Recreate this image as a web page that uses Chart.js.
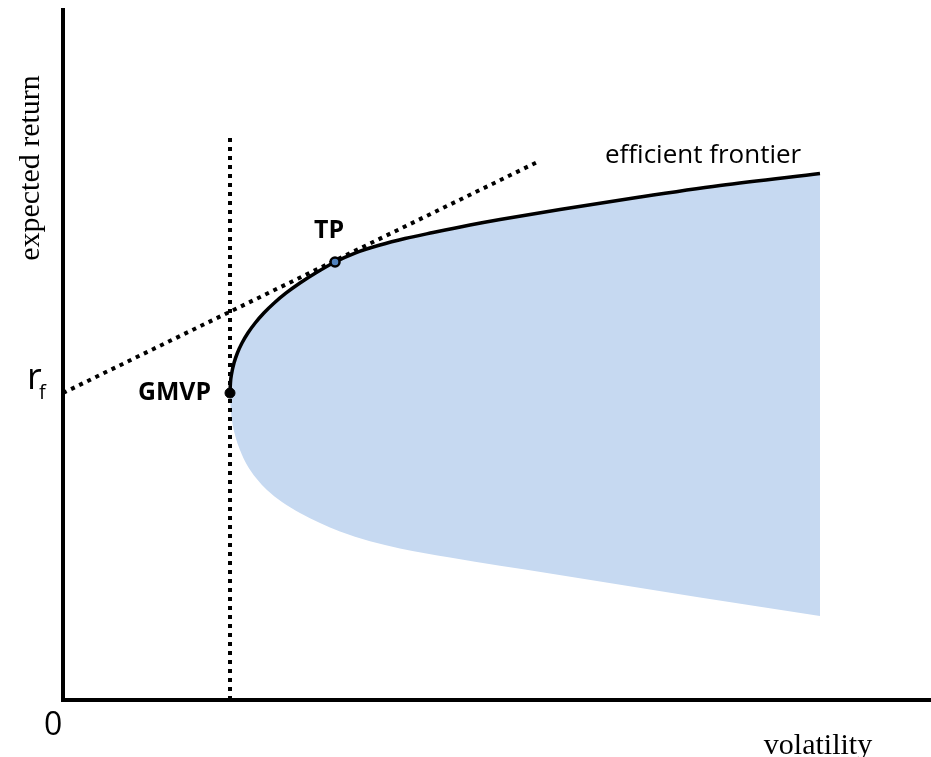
<!DOCTYPE html>
<html>
<head>
<meta charset="utf-8">
<script src="https://cdn.jsdelivr.net/npm/chart.js@4.4.0/dist/chart.umd.min.js"></script>
<style>
  body { margin: 0; background: #fff; }
  #wrap { width: 931px; height: 757px; }
</style>
</head>
<body>
<div id="wrap"><canvas id="frontierChart" width="931" height="757"></canvas></div>
<script>
// upper edge of the opportunity set = efficient frontier (volatility, expected return)
var frontierVol = [19.24, 19.29, 19.44, 19.70, 20.09, 20.62, 21.30, 22.14, 23.14, 24.33, 25.71, 27.30, 29.10, 31.34, 33.64, 36.52, 39.40, 42.63, 46.89, 50.35, 57.26, 66.47, 75.69, 87.21];
var frontierRet = [44.49, 45.94, 47.39, 48.84, 50.29, 51.74, 53.19, 54.64, 56.09, 57.54, 58.99, 60.43, 61.88, 63.48, 64.78, 65.94, 66.88, 67.75, 68.84, 69.64, 71.09, 72.90, 74.57, 76.30];

// lower edge of the opportunity set
var lowerVol = [19.24, 19.30, 19.47, 19.82, 20.39, 21.20, 22.24, 23.50, 25.23, 27.30, 29.61, 31.91, 35.37, 38.82, 44.59, 56.11, 73.39, 87.21];
var lowerRet = [44.49, 42.75, 40.58, 38.41, 36.23, 34.06, 32.17, 30.43, 28.70, 27.10, 25.65, 24.43, 23.00, 21.96, 20.65, 18.33, 14.86, 12.17];

// capital market line from rf through the tangency portfolio
var tangentVol = [0, 54.7];
var tangentRet = [44.49, 78.0];

// vertical line at the minimum variance
var gmvLineVol = [19.24, 19.24];
var gmvLineRet = [0, 81.9];

var gmvp = { vol: 19.24, ret: 44.49 };
var tp = { vol: 31.34, ret: 63.48 };

function toPoints(xs, ys) {
  return xs.map(function (v, i) { return { x: v, y: ys[i] }; });
}

// pick a font size so the text has the given width
function fitFont(ctx, text, weight, family, width) {
  ctx.font = weight + " 100px " + family;
  var size = 100 * width / ctx.measureText(text).width;
  return weight + " " + size.toFixed(1) + "px " + family;
}

var labelPlugin = {
  id: "frontierLabels",
  afterDraw: function (chart) {
    var ctx = chart.ctx;
    var xs = chart.scales.x;
    var ys = chart.scales.y;
    var sans = "'Open Sans', 'Noto Sans', sans-serif";
    var serif = "'Liberation Serif', 'DejaVu Serif', serif";
    ctx.save();
    ctx.fillStyle = "#000";
    ctx.textBaseline = "alphabetic";

    // efficient frontier
    ctx.font = fitFont(ctx, "efficient frontier", "normal", sans, 196);
    ctx.textAlign = "left";
    ctx.fillText("efficient frontier", 605, 163);

    // GMVP / TP
    ctx.font = fitFont(ctx, "GMVP", "bold", sans, 73);
    ctx.textAlign = "right";
    ctx.fillText("GMVP", xs.getPixelForValue(gmvp.vol) - 19, ys.getPixelForValue(gmvp.ret) + 7);
    ctx.font = fitFont(ctx, "TP", "bold", sans, 30);
    ctx.textAlign = "center";
    ctx.fillText("TP", xs.getPixelForValue(tp.vol) - 6, ys.getPixelForValue(tp.ret) - 24);

    // r_f
    ctx.textAlign = "left";
    var rfY = ys.getPixelForValue(tangentRet[0]);
    ctx.font = "normal 36px " + sans;
    ctx.fillText("r", 27, rfY - 4);
    ctx.font = "normal 20px " + sans;
    ctx.fillText("f", 39, rfY + 6);

    // origin
    ctx.font = "normal 32px " + sans;
    ctx.fillText("0", 44, 735);

    // axis titles
    ctx.font = "normal 30px " + serif;
    ctx.textAlign = "center";
    ctx.fillText("volatility", 818, 754);
    ctx.translate(39, 168);
    ctx.rotate(-Math.PI / 2);
    ctx.fillText("expected return", 0, 0);
    ctx.restore();
  }
};

var dotted = [4, 5];

var chartData = {
  datasets: [
    {
      label: "GMVP",
      data: [{ x: gmvp.vol, y: gmvp.ret }],
      showLine: false,
      pointRadius: 5,
      pointBackgroundColor: "#000",
      pointBorderColor: "#000",
      pointBorderWidth: 1,
    },
    {
      label: "TP",
      data: [{ x: tp.vol, y: tp.ret }],
      showLine: false,
      pointRadius: 4.5,
      pointBackgroundColor: "#4f81bd",
      pointBorderColor: "#000",
      pointBorderWidth: 2.5,
    },
    {
      label: "efficient frontier",
      data: toPoints(frontierVol, frontierRet),
      borderColor: "#000",
      borderWidth: 3.5,
      backgroundColor: "#c6d9f1",
      fill: 3,
      pointRadius: 0,
      cubicInterpolationMode: "monotone",
    },
    {
      label: "lower",
      data: toPoints(lowerVol, lowerRet),
      borderWidth: 0,
      borderColor: "rgba(0,0,0,0)",
      backgroundColor: "#c6d9f1",
      fill: false,
      pointRadius: 0,
      cubicInterpolationMode: "monotone",
    },
    {
      label: "tangent",
      data: toPoints(tangentVol, tangentRet),
      borderColor: "#000",
      borderWidth: 4,
      borderDash: dotted,
      borderCapStyle: "butt",
      fill: false,
      pointRadius: 0,
    },
    {
      label: "gmv line",
      data: toPoints(gmvLineVol, gmvLineRet),
      borderColor: "#000",
      borderWidth: 4,
      borderDash: dotted,
      borderCapStyle: "butt",
      fill: false,
      pointRadius: 0,
    },
  ],
};

var chartOptions = {
  responsive: false,
  animation: false,
  layout: { autoPadding: false, padding: { left: 63, top: 10, right: 0, bottom: 57 } },
  scales: {
    x: {
      type: "linear",
      min: 0,
      max: 100,
      grid: { display: false, drawTicks: false },
      ticks: { display: false },
      border: { display: true, color: "#000", width: 4 },
      afterFit: function (s) { s.height = 0; },
    },
    y: {
      type: "linear",
      min: 0,
      max: 100,
      grid: { display: false, drawTicks: false },
      ticks: { display: false },
      border: { display: true, color: "#000", width: 4 },
      afterFit: function (s) { s.width = 0; },
    },
  },
  plugins: {
    legend: { display: false },
    tooltip: { enabled: false },
    filler: { drawTime: "beforeDatasetsDraw" },
  },
};

var ctx = document.getElementById("frontierChart").getContext("2d");
var myChart = new Chart(ctx, {
  type: "line",
  data: chartData,
  options: chartOptions,
  plugins: [labelPlugin],
});
</script>
</body>
</html>
